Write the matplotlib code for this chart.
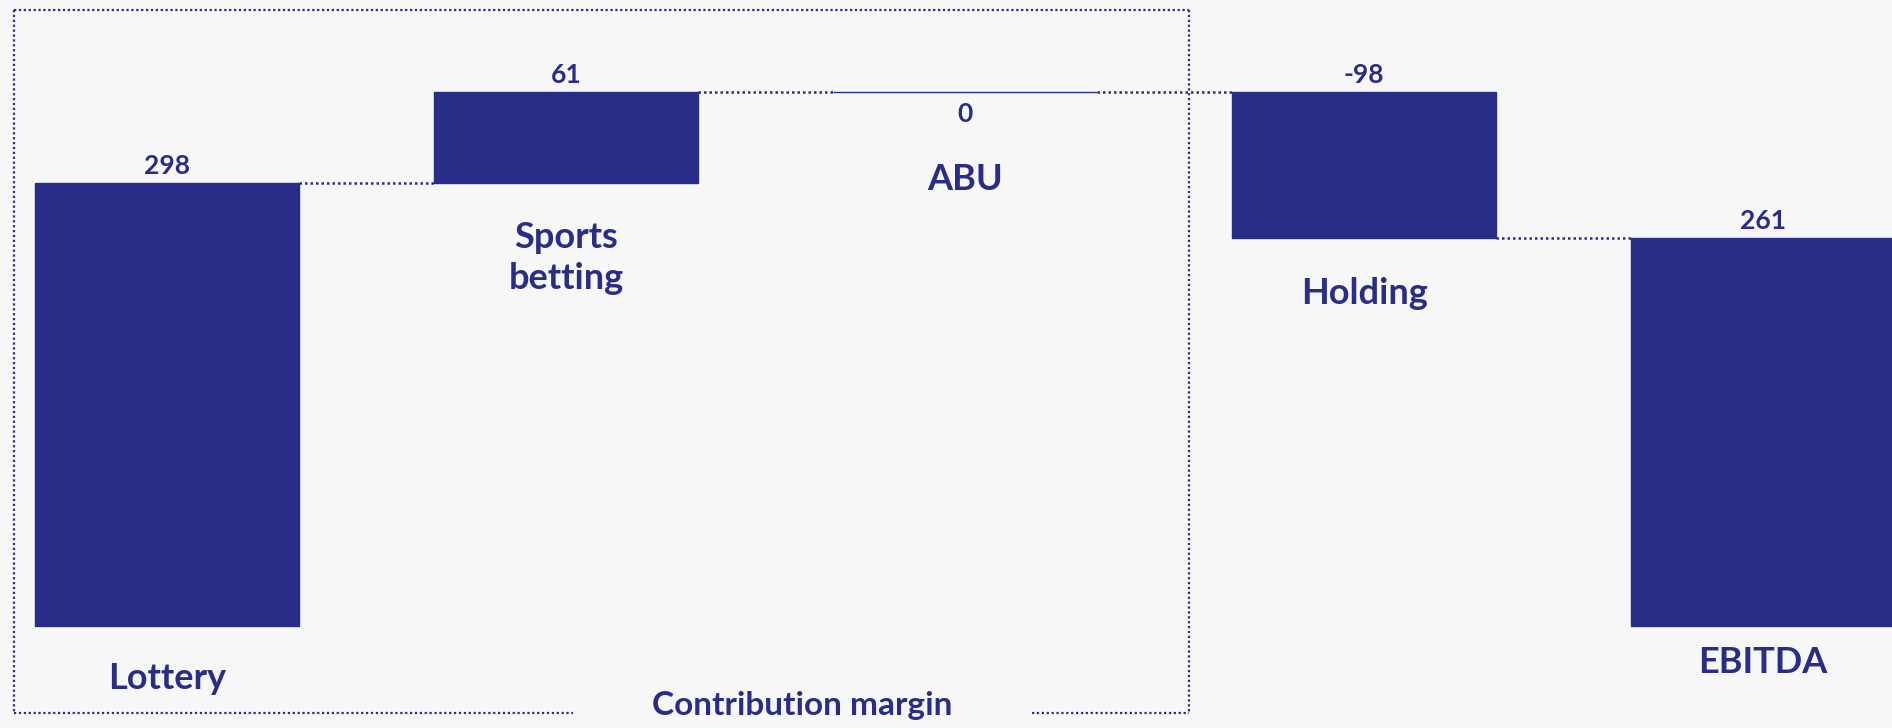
import matplotlib
matplotlib.use("Agg")
import matplotlib.pyplot as plt
from matplotlib.lines import Line2D

# ---- data ----
categories = ["Lottery", "Sports\nbetting", "ABU", "Holding", "EBITDA"]
values = [298, 61, 0, -98, 261]
is_total = [True, False, False, False, True]
value_labels = ["298", "61", "0", "-98", "261"]
group_label = "Contribution margin"

# ---- style ----
NAVY = "#2a2d87"
BG = "#f7f7f7"
FONT = "Lato"
W, H = 1892, 728

fig = plt.figure(figsize=(W / 100, H / 100), dpi=100, facecolor=BG)
ax = fig.add_axes([0, 0, 1, 1])
ax.set_facecolor(BG)
for s in ax.spines.values():
    s.set_visible(False)
ax.set_xticks([])
ax.set_yticks([])

x = list(range(len(values)))
bw = 0.662
ax.set_xlim(-0.4185, 4.323)
ax.set_ylim(-68.6, 420.9)

# compute waterfall bottoms
bottoms, heights, ends = [], [], []
run = 0
for v, tot in zip(values, is_total):
    if tot:
        b, h = 0, v
        run = v
    else:
        b, h = run, v
        run = run + v
    bottoms.append(b)
    heights.append(h)
    ends.append(run)

ax.bar(x, heights, bottom=bottoms, width=bw, color=NAVY,
       edgecolor=NAVY, linewidth=1.0, zorder=3)

# connectors
for i in range(len(values) - 1):
    ax.plot([x[i] + bw / 2, x[i + 1] - bw / 2], [ends[i], ends[i]],
            color=NAVY, lw=1.8, linestyle=(0, (1, 1.2)), zorder=2)

# value labels and category labels
val_off = [12, 12, -16, 12, 12]        # points
cat_off = [-38, -54, -63, -40, -26]    # points from lower end
for i, (b, h) in enumerate(zip(bottoms, heights)):
    top = max(b, b + h)
    low = min(b, b + h)
    ax.annotate(value_labels[i], (x[i], top), xytext=(0, val_off[i]),
                textcoords="offset points", ha="center", va="center",
                fontsize=19, fontweight="bold", color=NAVY, family=FONT)
    ax.annotate(categories[i], (x[i], low), xytext=(0, cat_off[i]),
                textcoords="offset points", ha="center", va="center",
                fontsize=26, fontweight="bold", color=NAVY, family=FONT,
                linespacing=1.3)

# dotted group box (figure pixel coordinates)
def fx(px):
    return px / W

def fy(py):
    return 1 - py / H

L, R, T, B = 14, 1189, 10, 713
box_kw = dict(color=NAVY, lw=1.6, linestyle=(0, (1, 1.2)),
              transform=fig.transFigure, zorder=1)
segs = [([L, R], [T, T]), ([L, L], [T, B]), ([R, R], [T, B]),
        ([L, 573], [B, B]), ([1032, R], [B, B])]
for xs, ys in segs:
    fig.add_artist(Line2D([fx(v) for v in xs], [fy(v) for v in ys], **box_kw))

fig.text(fx(802), fy(705), group_label, ha="center", va="center",
         fontsize=24, fontweight="bold", color=NAVY, family=FONT)

fig.savefig("out.png", dpi=100, facecolor=BG)
